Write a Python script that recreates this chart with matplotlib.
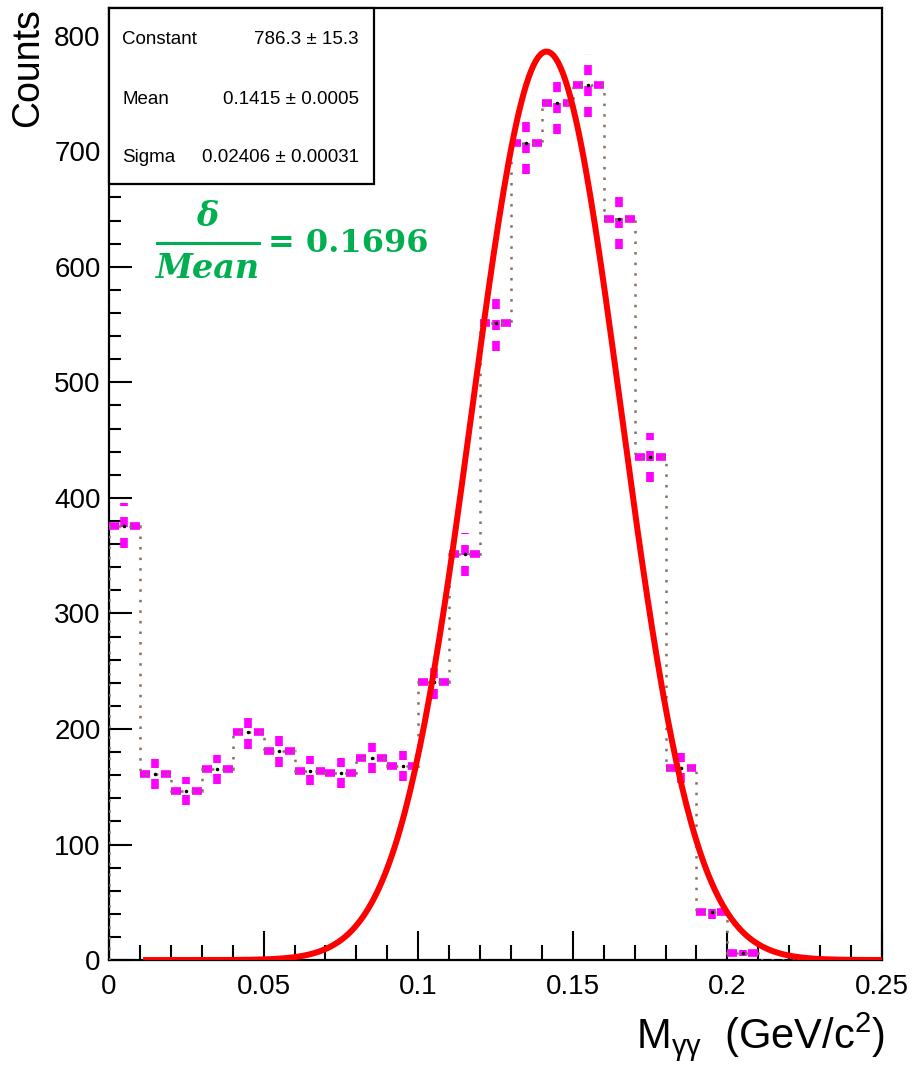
"""Diphoton invariant mass histogram with a Gaussian fit, ROOT-style."""

import matplotlib
matplotlib.use("Agg")
import matplotlib.pyplot as plt
from matplotlib.ticker import MultipleLocator
import numpy as np

plt.rcParams["font.family"] = ["Liberation Sans", "DejaVu Sans"]
plt.rcParams["lines.scale_dashes"] = False

# histogram: 25 bins of 0.01 GeV/c^2, counts
BIN_EDGES = [0.00, 0.01, 0.02, 0.03, 0.04, 0.05, 0.06, 0.07, 0.08, 0.09,
             0.10, 0.11, 0.12, 0.13, 0.14, 0.15, 0.16, 0.17, 0.18, 0.19,
             0.20, 0.21, 0.22, 0.23, 0.24, 0.25]
COUNTS = [376, 161, 146, 165, 197, 181, 164, 162, 175, 168,
          241, 351, 551, 707, 742, 757, 641, 435, 166, 42,
          6, 0, 0, 0, 0]
ERRORS = [19.4, 12.7, 12.1, 12.8, 14.0, 13.5, 12.8, 12.7, 13.2, 13.0,
          15.5, 18.7, 23.5, 26.6, 27.2, 27.5, 25.3, 20.9, 12.9, 6.5,
          2.4, 0, 0, 0, 0]

# fit result shown in the stats box
FIT_CONSTANT = 786.3
FIT_MEAN = 0.1415
FIT_SIGMA = 0.02406
FIT_RANGE = (0.011, 0.25)
STATS_ROWS = [("Constant", "786.3 \u00b1 15.3"),
              ("Mean", "0.1415 \u00b1 0.0005"),
              ("Sigma", "0.02406 \u00b1 0.00031")]
RATIO_TEXT = "0.1696"

GREEN = "#00b050"
MAGENTA = "#ff00ff"
STEP_COLOR = "#86705f"

edges = np.asarray(BIN_EDGES)
counts = np.asarray(COUNTS, dtype=float)
errors = np.asarray(ERRORS)
centers = 0.5 * (edges[:-1] + edges[1:])
filled = counts > 0

fig = plt.figure(figsize=(9.2, 10.74), dpi=100)
ax = fig.add_axes([0.1185, 0.1061, 0.8402, 0.8865])

# error bars drawn with long magenta dashes, like the ROOT canvas
ax.vlines(centers[filled], counts[filled] - errors[filled], counts[filled] + errors[filled],
          colors=MAGENTA, linewidths=5.5, linestyles=[(0, (7.2, 7.9))], zorder=3)
ax.hlines(counts[filled], edges[:-1][filled], edges[1:][filled],
          colors=MAGENTA, linewidths=5.5, linestyles=[(0, (7.2, 7.9))], zorder=3)
ax.plot(centers[filled], counts[filled], "o", ms=1.5, color="k", zorder=5)

# dotted step outline of the histogram
ax.stairs(counts, edges, baseline=0, color=STEP_COLOR, lw=1.8,
          linestyle=(0, (1.8, 5.8)), zorder=4)

# Gaussian fit curve from the fitted parameters
xf = np.linspace(FIT_RANGE[0], FIT_RANGE[1], 300)
yf = FIT_CONSTANT * np.exp(-0.5 * ((xf - FIT_MEAN) / FIT_SIGMA) ** 2)
ax.plot(xf, yf, color="red", lw=4.3, zorder=6, solid_capstyle="butt")

ax.set_xlim(0, 0.25)
ax.set_ylim(0, 824)
ax.xaxis.set_minor_locator(MultipleLocator(0.01))
ax.yaxis.set_major_locator(MultipleLocator(100))
ax.yaxis.set_minor_locator(MultipleLocator(20))
ax.set_xticks([0, 0.05, 0.1, 0.15, 0.2, 0.25])
ax.set_xticklabels(["0", "0.05", "0.1", "0.15", "0.2", "0.25"])
ax.tick_params(axis="x", which="major", direction="in", length=21, width=1.5,
               labelsize=20, pad=10)
ax.tick_params(axis="x", which="minor", direction="in", length=10.8, width=1.5)
ax.tick_params(axis="y", which="major", direction="in", length=16.6, width=1.5,
               labelsize=20, pad=6)
ax.tick_params(axis="y", which="minor", direction="in", length=8.3, width=1.5)
for sp in ax.spines.values():
    sp.set_linewidth(1.6)

fig.text(0.031, 0.992, "Counts", rotation=90, ha="center", va="top", fontsize=27)
fig.text(0.962, 0.010, r"M$_{\mathregular{\gamma\gamma}}$  (GeV/c$^{\mathregular{2}}$)",
         ha="right", va="bottom", fontsize=30)

# stats box
box = plt.Rectangle((109 / 920, 1 - 184 / 1074), (374 - 109) / 920, (184 - 8) / 1074,
                    transform=fig.transFigure, facecolor="white", edgecolor="black",
                    lw=1.6, zorder=10)
fig.add_artist(box)
for (name, val), ypx in zip(STATS_ROWS, [40, 99, 157]):
    fig.text(122 / 920, 1 - ypx / 1074, name, ha="left", va="center", fontsize=13.5, zorder=11)
    fig.text(359 / 920, 1 - ypx / 1074, val, ha="right", va="center", fontsize=13.5, zorder=11)

# resolution annotation: delta / Mean = 0.1696
serif = ["DejaVu Serif"]
fig.text(207 / 920, 1 - 216 / 1074, "\u03b4", ha="center", va="center", fontsize=24,
         color=GREEN, family=serif, fontweight="bold", fontstyle="italic")
fig.add_artist(plt.Line2D([157 / 920, 259 / 920], [1 - 243 / 1074, 1 - 243 / 1074],
                          transform=fig.transFigure, color=GREEN, lw=2.2))
fig.text(208 / 920, 1 - 268 / 1074, "Mean", ha="center", va="center", fontsize=24,
         color=GREEN, family=serif, fontweight="bold", fontstyle="italic")
fig.text(268 / 920, 1 - 244 / 1074, "= " + RATIO_TEXT, ha="left", va="center", fontsize=23,
         color=GREEN, family=serif, fontweight="bold")

fig.savefig("out.png", dpi=100)
